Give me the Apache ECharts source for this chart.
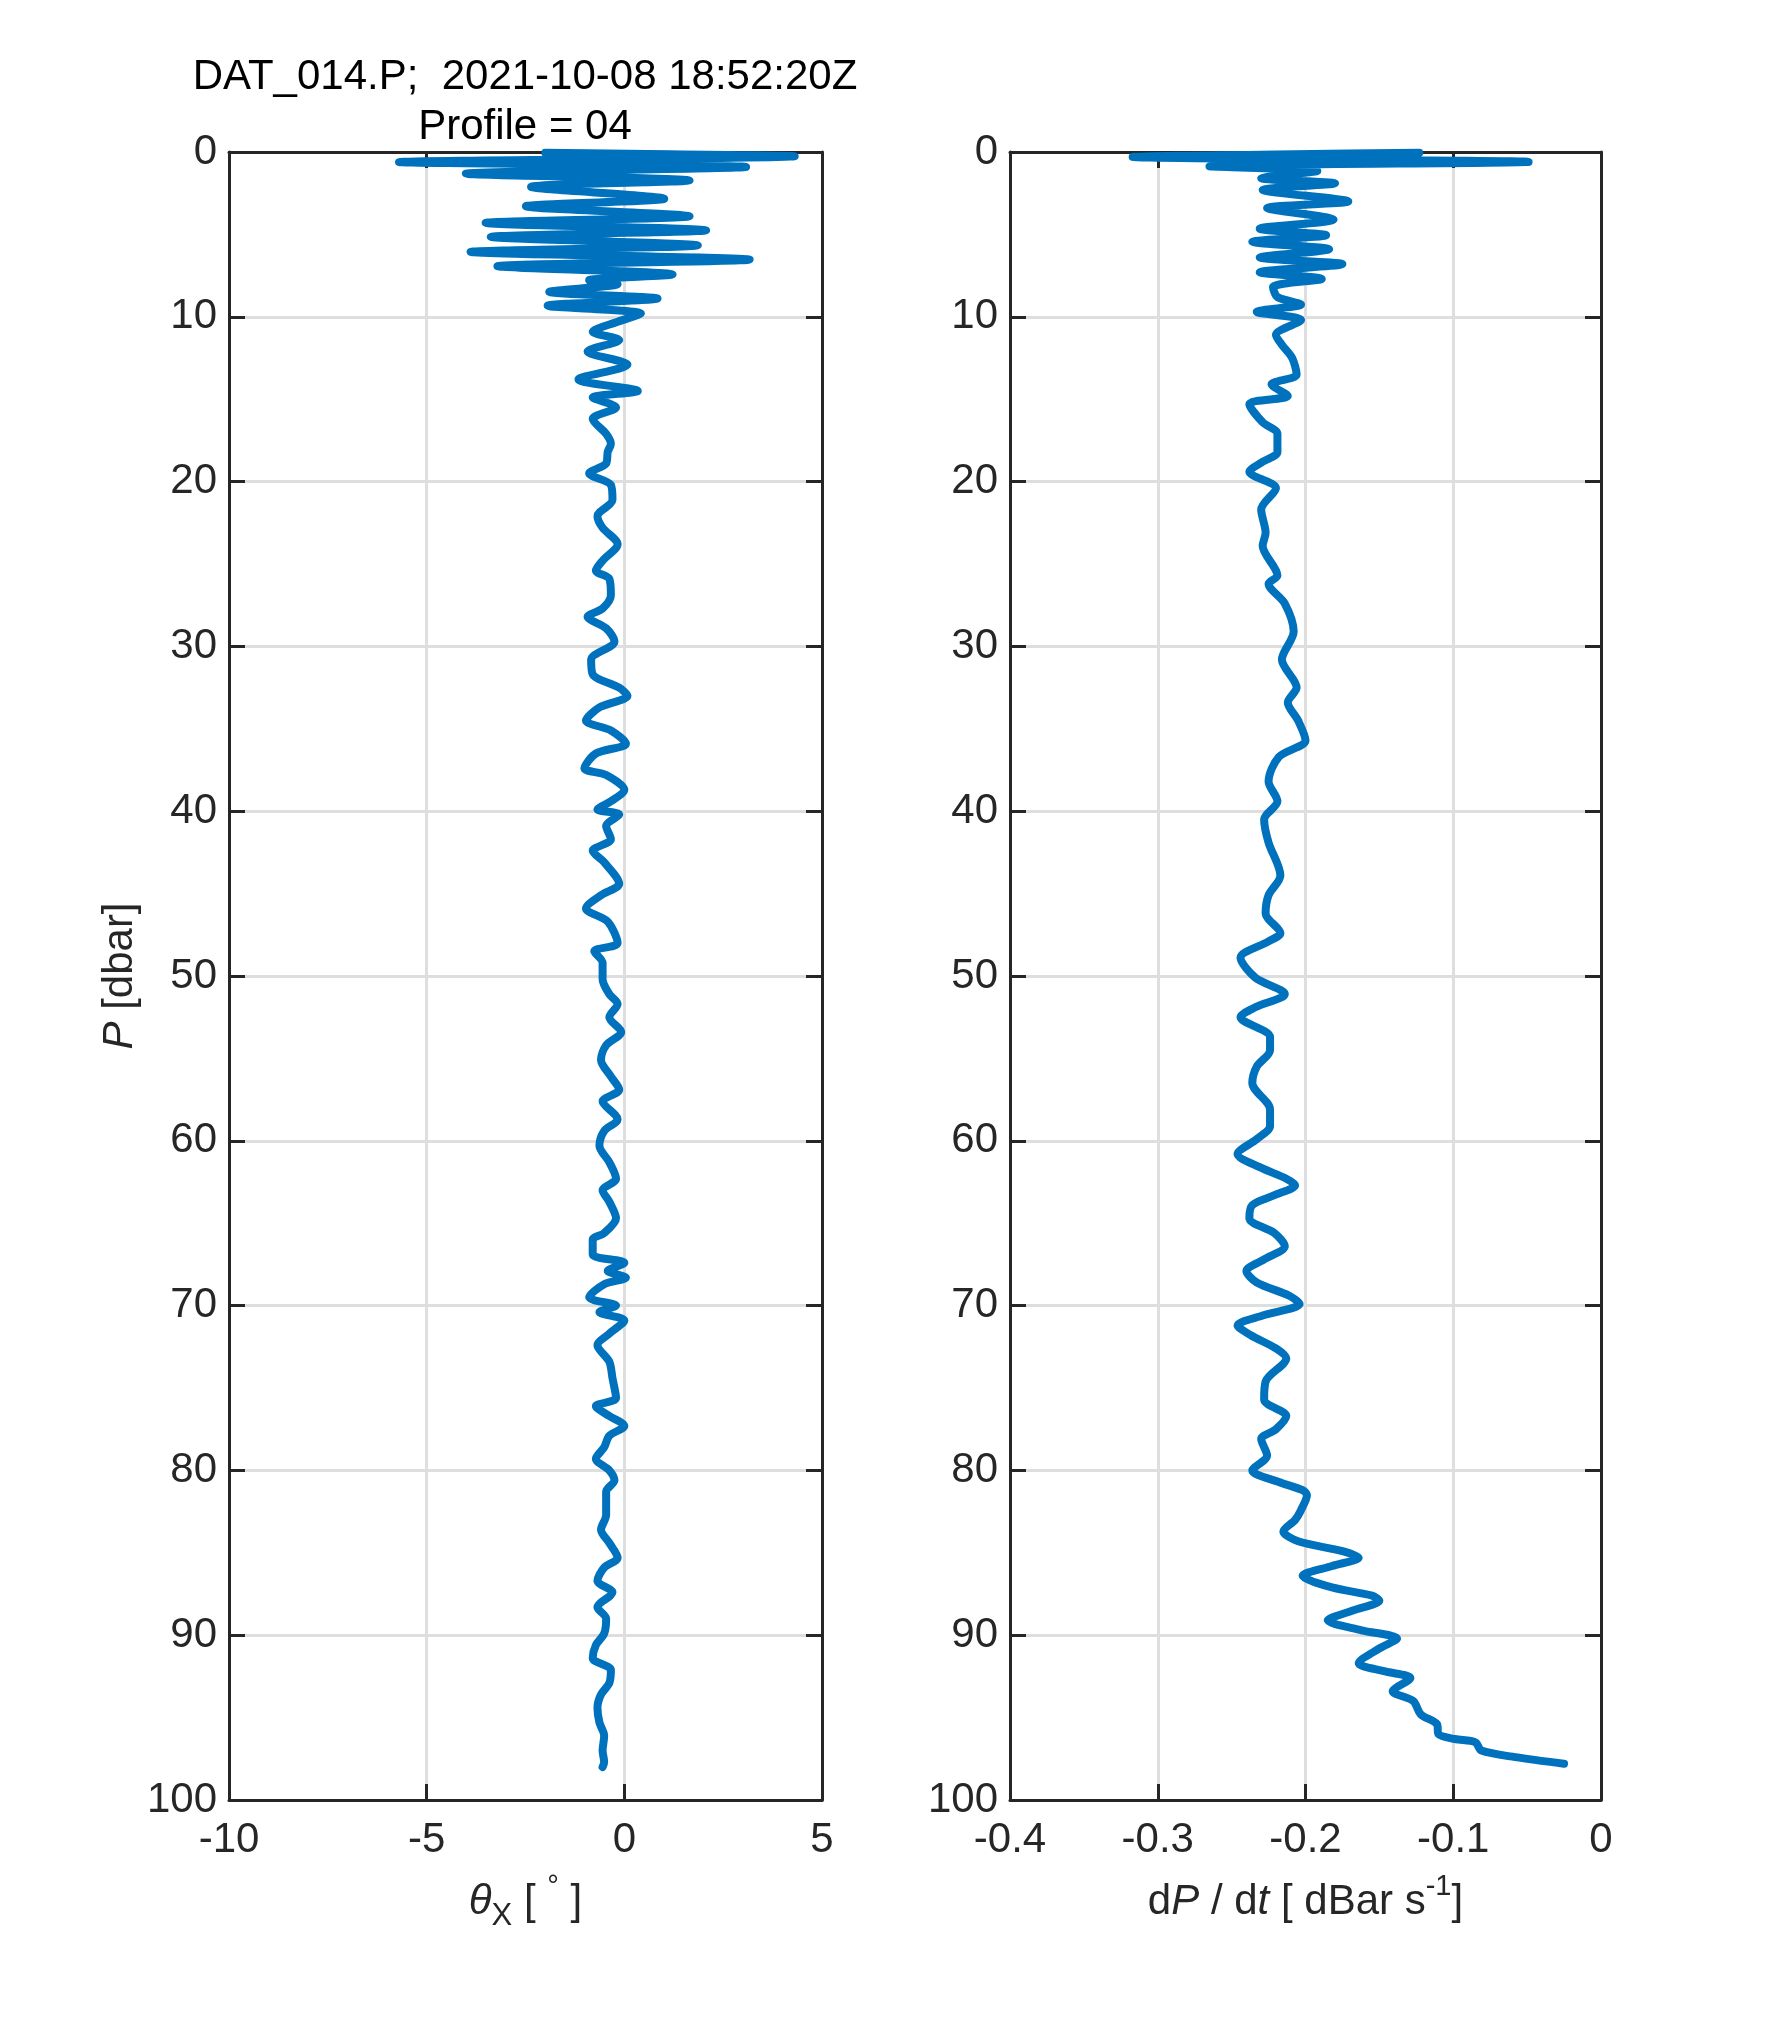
<!DOCTYPE html>
<html>
<head>
<meta charset="utf-8">
<title>DAT_014.P profile 04</title>
<script src="https://cdn.jsdelivr.net/npm/echarts@6/dist/echarts.min.js"></script>
<style>
  html, body { margin: 0; padding: 0; background: #fff; }
  #chart { width: 1771px; height: 2025px; }
</style>
</head>
<body>
<div id="chart"></div>
<script>
// pressure [dbar] and pitch angle theta_X [deg]
const pressureLeft = [
    0.05, 0.26, 0.61, 0.91, 1.31, 1.72, 2.12, 2.83, 3.29, 3.90,
    4.30, 4.75, 5.15, 5.66, 6.06, 6.53, 6.93, 7.43, 7.78, 8.02,
    8.48, 8.89, 9.33, 9.80, 10.30, 10.91, 11.41, 12.1, 12.9, 13.8,
    14.5, 14.9, 15.5, 16.2, 17.1, 17.7, 18.2, 18.9, 19.5, 20.2,
    21.1, 22.1, 22.8, 23.8, 24.8, 25.4, 25.9, 26.9, 27.7, 28.2,
    28.9, 29.7, 30.8, 31.7, 32.5, 33.0, 33.7, 34.5, 35.1, 35.9,
    36.5, 37.4, 37.8, 38.7, 39.4, 39.9, 40.2, 40.9, 41.7, 42.4,
    43.1, 44.4, 45.1, 45.9, 46.7, 48.0, 48.5, 49.2, 50.2, 51.1,
    51.7, 52.5, 53.4, 54.2, 55.1, 56.1, 56.9, 57.6, 58.7, 59.4,
    60.3, 61.3, 62.3, 63.0, 63.7, 64.7, 65.6, 66.0, 66.9, 67.4,
    67.9, 68.3, 68.7, 69.5, 70.0, 70.4, 70.9, 71.7, 72.4, 73.4,
    74.4, 75.6, 76.1, 76.7, 77.3, 77.9, 78.6, 79.3, 80.0, 80.6,
    81.3, 82.7, 83.6, 84.4, 85.3, 85.9, 86.7, 87.4, 88.3, 89.0,
    89.9, 90.6, 91.4, 92.1, 92.9, 93.6, 94.4, 95.3, 96.1, 97.0,
    97.7, 98.0
]
const thetaX = [
    -2.00, 4.31, -5.70, 3.08, -4.01, 1.65, -2.36, 1.01, -2.49, 1.65,
    -3.51, 2.07, -3.38, 1.86, -3.89, 3.17, -3.21, 1.22, -0.89, -0.17,
    -1.90, 0.84, -1.94, 0.42, -0.17, -0.80, -0.13, -0.93, 0.08, -1.16,
    0.34, -0.80, -0.21, -0.80, -0.46, -0.34, -0.42, -0.46, -0.89, -0.34,
    -0.30, -0.68, -0.55, -0.17, -0.55, -0.72, -0.38, -0.34, -0.55, -0.93,
    -0.46, -0.25, -0.84, -0.80, -0.13, 0.08, -0.63, -0.97, -0.34, 0.04,
    -0.72, -1.01, -0.46, 0.00, -0.34, -0.68, -0.13, -0.46, -0.34, -0.80,
    -0.51, -0.13, -0.59, -0.97, -0.42, -0.17, -0.76, -0.55, -0.55, -0.38,
    -0.17, -0.38, -0.08, -0.46, -0.59, -0.34, -0.13, -0.55, -0.17, -0.51,
    -0.63, -0.38, -0.21, -0.55, -0.38, -0.21, -0.51, -0.80, -0.80, 0.00,
    -0.42, 0.04, -0.51, -0.89, -0.21, -0.63, 0.00, -0.38, -0.68, -0.38,
    -0.30, -0.21, -0.72, -0.38, 0.00, -0.38, -0.51, -0.72, -0.38, -0.25,
    -0.46, -0.46, -0.59, -0.38, -0.17, -0.51, -0.68, -0.30, -0.68, -0.46,
    -0.51, -0.72, -0.80, -0.34, -0.38, -0.59, -0.68, -0.63, -0.51, -0.55,
    -0.51, -0.55
]

// pressure [dbar] and fall rate dP/dt [dBar/s]
const pressureRight = [
    0.05, 0.3, 0.6, 0.87, 1.15, 1.6, 1.9, 2.3, 3.0, 3.4,
    4.1, 4.65, 5.05, 5.45, 5.9, 6.4, 6.8, 7.3, 7.7, 8.2,
    8.8, 9.25, 9.7, 10.2, 11.1, 11.7, 12.5, 13.5, 14.1, 14.8,
    15.3, 16.4, 17.1, 18.2, 18.8, 19.4, 20.4, 21.7, 23.1, 23.9,
    25.7, 26.2, 27.4, 29.1, 30.8, 32.5, 33.4, 34.5, 35.7, 36.7,
    38.2, 39.4, 40.5, 41.9, 43.9, 45.1, 46.2, 47.4, 47.9, 48.9,
    50.1, 51.1, 51.9, 52.5, 53.7, 54.5, 55.5, 56.5, 58.1, 59.1,
    59.9, 60.8, 61.6, 62.3, 62.7, 63.3, 63.9, 64.7, 65.6, 66.4,
    67.2, 67.9, 68.6, 69.4, 69.9, 70.6, 71.2, 71.8, 72.6, 73.2,
    74.6, 75.7, 76.7, 77.5, 78.1, 79.1, 80.0, 80.7, 81.2, 81.5,
    82.4, 83.0, 83.7, 84.3, 84.9, 85.3, 85.8, 86.4, 87.1, 87.6,
    87.9, 88.5, 89.1, 89.7, 90.2, 90.8, 91.7, 92.2, 92.6, 93.4,
    94.0, 94.8, 95.4, 96.0, 96.3, 96.5, 97.0, 97.4, 97.8
]
const dPdt = [
    -0.123, -0.317, -0.049, -0.265, -0.192, -0.230, -0.180, -0.229, -0.171, -0.226,
    -0.181, -0.231, -0.186, -0.236, -0.184, -0.231, -0.175, -0.231, -0.189, -0.222,
    -0.219, -0.203, -0.233, -0.203, -0.220, -0.216, -0.209, -0.206, -0.223, -0.212,
    -0.238, -0.229, -0.219, -0.219, -0.229, -0.238, -0.220, -0.230, -0.227, -0.229,
    -0.219, -0.225, -0.214, -0.208, -0.216, -0.206, -0.212, -0.205, -0.200, -0.218,
    -0.225, -0.219, -0.228, -0.225, -0.217, -0.225, -0.227, -0.217, -0.225, -0.244,
    -0.234, -0.214, -0.234, -0.244, -0.224, -0.224, -0.233, -0.236, -0.224, -0.224,
    -0.233, -0.246, -0.231, -0.213, -0.207, -0.221, -0.236, -0.238, -0.221, -0.214,
    -0.228, -0.240, -0.233, -0.211, -0.204, -0.229, -0.246, -0.237, -0.220, -0.213,
    -0.227, -0.228, -0.213, -0.220, -0.230, -0.226, -0.236, -0.218, -0.202, -0.199,
    -0.203, -0.207, -0.215, -0.205, -0.175, -0.164, -0.182, -0.202, -0.182, -0.155,
    -0.150, -0.168, -0.185, -0.162, -0.138, -0.150, -0.164, -0.146, -0.129, -0.141,
    -0.127, -0.122, -0.111, -0.110, -0.099, -0.085, -0.081, -0.058, -0.025
]

const titleLines = ['DAT_014.P;  2021-10-08 18:52:20Z', 'Profile = 04']

const FONT = '"Liberation Sans", Arial, Helvetica, sans-serif'
const FS = 42
const INK = '#262626'
const BLUE = '#0072BD'

const chartEl = document.getElementById('chart')
const chart = echarts.init(chartEl, null, { renderer: 'canvas' })

// rich text pieces for the TeX-ish axis labels
const rich = {
    it: { fontStyle: 'italic', fontSize: FS, fontFamily: FONT, color: INK },
    sub: { fontSize: 31, fontFamily: FONT, color: INK, verticalAlign: 'bottom', lineHeight: 30 },
    sup: { fontSize: 29, fontFamily: FONT, color: INK, verticalAlign: 'top', lineHeight: 28 },
}

function bottomAxis(gridIndex, min, max, interval, name, fmt) {
    return {
        type: 'value', gridIndex: gridIndex, position: 'bottom',
        min: min, max: max, interval: interval,
        name: name, nameLocation: 'middle', nameGap: 72,
        nameTextStyle: { fontSize: FS, fontFamily: FONT, color: INK, lineHeight: 60, rich: rich },
        axisLine: { show: true, onZero: false, lineStyle: { color: INK, width: 3 } },
        axisTick: { show: true, inside: true, length: 16, lineStyle: { color: INK, width: 3 } },
        axisLabel: { fontSize: FS, fontFamily: FONT, color: INK, margin: 19, formatter: fmt },
        splitLine: { show: true, lineStyle: { color: '#dedede', width: 3 } },
    }
}

function topAxis(gridIndex, min, max, interval) {
    return {
        type: 'value', gridIndex: gridIndex, position: 'top',
        min: min, max: max, interval: interval,
        axisLine: { show: true, onZero: false, lineStyle: { color: INK, width: 3 } },
        axisTick: { show: true, inside: true, length: 16, lineStyle: { color: INK, width: 3 } },
        axisLabel: { show: false },
        splitLine: { show: false },
    }
}

function leftAxis(gridIndex, name) {
    return {
        type: 'value', gridIndex: gridIndex, position: 'left', inverse: true,
        min: 0, max: 100, interval: 10,
        name: name, nameLocation: 'middle', nameGap: 88,
        nameTextStyle: { fontSize: FS, fontFamily: FONT, color: INK, rich: rich },
        axisLine: { show: true, onZero: false, lineStyle: { color: INK, width: 3 } },
        axisTick: { show: true, inside: true, length: 16, lineStyle: { color: INK, width: 3 } },
        axisLabel: { fontSize: FS, fontFamily: FONT, color: INK, margin: 12, padding: [6, 0, 0, 0] },
        splitLine: { show: true, lineStyle: { color: '#dedede', width: 3 } },
    }
}

function rightAxis(gridIndex) {
    return {
        type: 'value', gridIndex: gridIndex, position: 'right', inverse: true,
        min: 0, max: 100, interval: 10,
        axisLine: { show: true, onZero: false, lineStyle: { color: INK, width: 3 } },
        axisTick: { show: true, inside: true, length: 16, lineStyle: { color: INK, width: 3 } },
        axisLabel: { show: false },
        splitLine: { show: false },
    }
}

const leftData = thetaX.map((v, i) => [v, pressureLeft[i]])
const rightData = dPdt.map((v, i) => [v, pressureRight[i]])

function profileSeries(xIdx, yIdx, data) {
    return {
        type: 'line', xAxisIndex: xIdx, yAxisIndex: yIdx,
        data: data, showSymbol: false, smooth: 0.3, clip: false,
        animation: false, z: 3,
        lineStyle: { color: BLUE, width: 8, cap: 'round', join: 'round' },
    }
}

chart.setOption({
    backgroundColor: '#fff',
    animation: false,
    grid: [
        { left: 229, top: 152, width: 593, height: 1648 },
        { left: 1010, top: 152, width: 591, height: 1648 },
    ],
    xAxis: [
        bottomAxis(0, -10, 5, 5, '{it|θ}{sub|X} [ {sup|°} ]', v => String(v)),
        bottomAxis(1, -0.4, 0, 0.1, 'd{it|P} / d{it|t} [ dBar s{sup|-1}]',
            v => (Math.abs(v) < 1e-9 ? '0' : v.toFixed(1))),
        topAxis(0, -10, 5, 5),
        topAxis(1, -0.4, 0, 0.1),
    ],
    yAxis: [
        leftAxis(0, '{it|P} [dbar]'),
        leftAxis(1, ''),
        rightAxis(0),
        rightAxis(1),
    ],
    series: [
        profileSeries(0, 0, leftData),
        profileSeries(1, 1, rightData),
    ],
    graphic: titleLines.map((t, i) => ({
        type: 'text',
        x: 525, y: 77 + i * 50,
        style: {
            text: t, fill: '#000', fontSize: FS, fontFamily: FONT,
            textAlign: 'center', textVerticalAlign: 'middle',
        },
    })),
})
</script>
</body>
</html>
